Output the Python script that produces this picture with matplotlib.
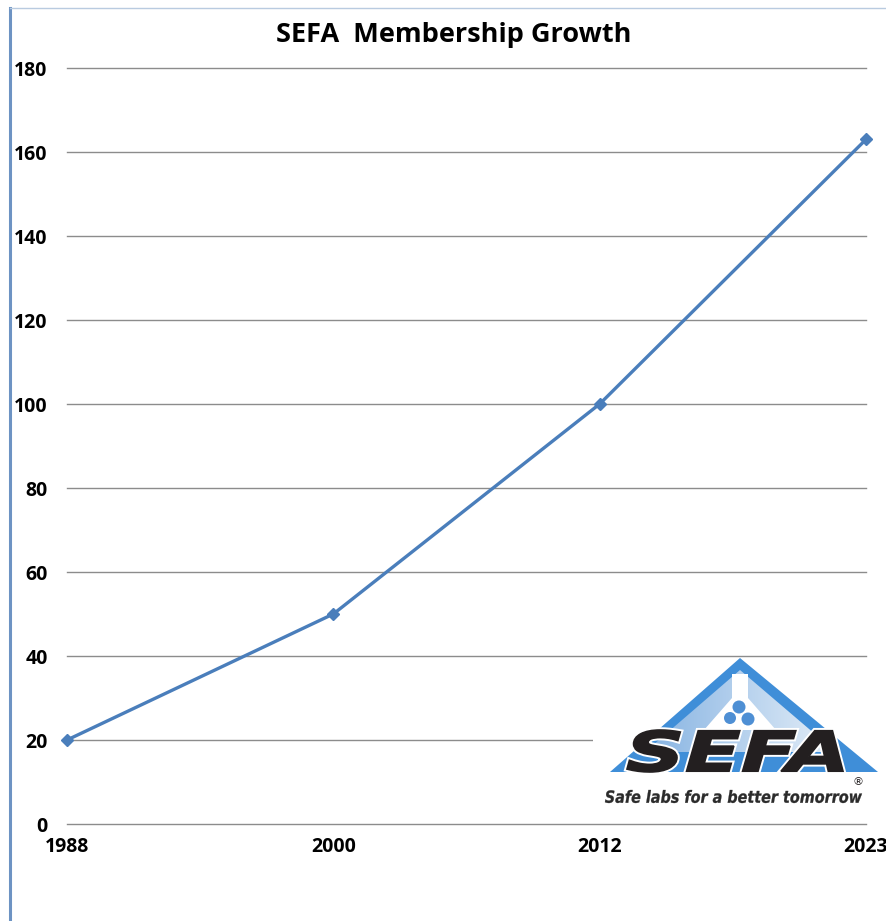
import matplotlib
matplotlib.use("Agg")
import matplotlib.pyplot as plt
import numpy as np
from matplotlib.patches import Polygon, Rectangle, Circle, PathPatch
from matplotlib.textpath import TextPath
from matplotlib.font_manager import FontProperties
from matplotlib.transforms import Affine2D
from matplotlib.lines import Line2D
from matplotlib.colors import LinearSegmentedColormap

# ---- data ----
years = ["1988", "2000", "2012", "2023"]
members = [20, 50, 100, 163]
y_ticks = [0, 20, 40, 60, 80, 100, 120, 140, 160, 180]
title = "SEFA  Membership Growth"

W, H = 886, 921
fig = plt.figure(figsize=(W / 100, H / 100), dpi=100)
fig.patch.set_facecolor("white")

def fx(px):
    return px / W

def fy(py):
    return 1 - py / H

ax = fig.add_axes([fx(67), fy(824), fx(866) - fx(67), fy(68) - fy(824)])
x = np.arange(len(years))
ax.plot(x, members, color="#4A7EBB", lw=2.4, marker="D", ms=6.5,
        markeredgecolor="#4A7EBB", markerfacecolor="#4A7EBB", zorder=3,
        clip_on=False)
ax.set_xlim(0, len(years) - 1)
ax.set_ylim(0, 180)
ax.set_yticks(y_ticks)
ax.set_yticklabels([str(v) for v in y_ticks])
ax.set_xticks(x)
ax.set_xticklabels(years)
for s in ax.spines.values():
    s.set_visible(False)
ax.grid(axis="y", color="#8C8C8C", lw=1.0)
for gl in ax.get_ygridlines():
    gl.set_clip_on(False)
ax.set_axisbelow(True)
ax.tick_params(axis="both", length=0, labelsize=14)
ax.tick_params(axis="y", pad=14)
ax.tick_params(axis="x", pad=9)
for lab in ax.get_xticklabels() + ax.get_yticklabels():
    lab.set_fontweight("bold")
    lab.set_fontfamily("Open Sans")

fig.text(fx(454), fy(35), title, ha="center", va="center", fontsize=19.5,
         fontweight="bold", family="Open Sans")

# border lines
fig.add_artist(Line2D([fx(10), fx(10)], [fy(8), 0], color="#6D93C3", lw=2.2))
fig.add_artist(Line2D([fx(10), 1], [fy(8), fy(8)], color="#B9CBE0", lw=1.0))

# ---- logo overlay (pixel coordinates) ----
lx = fig.add_axes([0, 0, 1, 1], zorder=10)
lx.set_xlim(0, W)
lx.set_ylim(H, 0)
lx.axis("off")
lx.patch.set_alpha(0)

lx.add_patch(Rectangle((593, 662), 293, 156, facecolor="white", edgecolor="none"))

# triangle with gradient
tri = Polygon([(740, 658), (610, 772), (878, 772)], closed=True,
              facecolor="#3F8ED8", edgecolor="none", zorder=1)
lx.add_patch(tri)
inner = Polygon([(740, 670), (645, 752), (836, 752)], closed=True,
                facecolor="none", edgecolor="none", zorder=1)
lx.add_patch(inner)
grad = np.linspace(0, 1, 256).reshape(1, -1)
cm = LinearSegmentedColormap.from_list("g", ["#86B3E2", "#E4EEF8"])
im = lx.imshow(grad, extent=(645, 836, 752, 670), cmap=cm, aspect="auto",
               zorder=1.5)
im.set_clip_path(inner)
lx.set_xlim(0, W)
lx.set_ylim(H, 0)

# flask
flask = Polygon([(732, 674), (748, 674), (748, 698), (776, 730),
                 (704, 730), (732, 698)], closed=True,
                facecolor="white", edgecolor="none", zorder=2)
lx.add_patch(flask)
for (cx, cy, r) in [(739, 707, 6.5), (730, 718, 6), (748, 719, 6.5)]:
    lx.add_patch(Circle((cx, cy), r, facecolor="#4E8FD4", edgecolor="none",
                        zorder=2.5))

def fit_text(s, x0, x1, y0, y1, color, ec=None, lw=0, inner_lw=1.2, z=3):
    fp = FontProperties(family="DejaVu Sans", weight="bold", style="italic")
    tp = TextPath((0, 0), s, size=10, prop=fp)
    bb = tp.get_extents()
    sx = (x1 - x0) / bb.width
    sy = (y1 - y0) / bb.height
    tr = Affine2D().translate(-bb.x0, -bb.y0).scale(sx, -sy).translate(x0, y1)
    path = tr.transform_path(tp)
    if ec:
        lx.add_patch(PathPatch(path, facecolor=color, edgecolor=ec, lw=lw,
                               zorder=z))
    lx.add_patch(PathPatch(path, facecolor=color, edgecolor=color,
                           lw=inner_lw, zorder=z + 0.1))

fit_text("SEFA", 627, 843, 730, 772, "#231F20", ec="white", lw=4)
fit_text("Safe labs for a better tomorrow", 605, 862, 790, 803, "#2B2B2B",
         inner_lw=0.2)
lx.text(858, 782, "®", fontsize=8, ha="center", va="center", color="#231F20")

fig.savefig("out.png", dpi=100, facecolor="white")
